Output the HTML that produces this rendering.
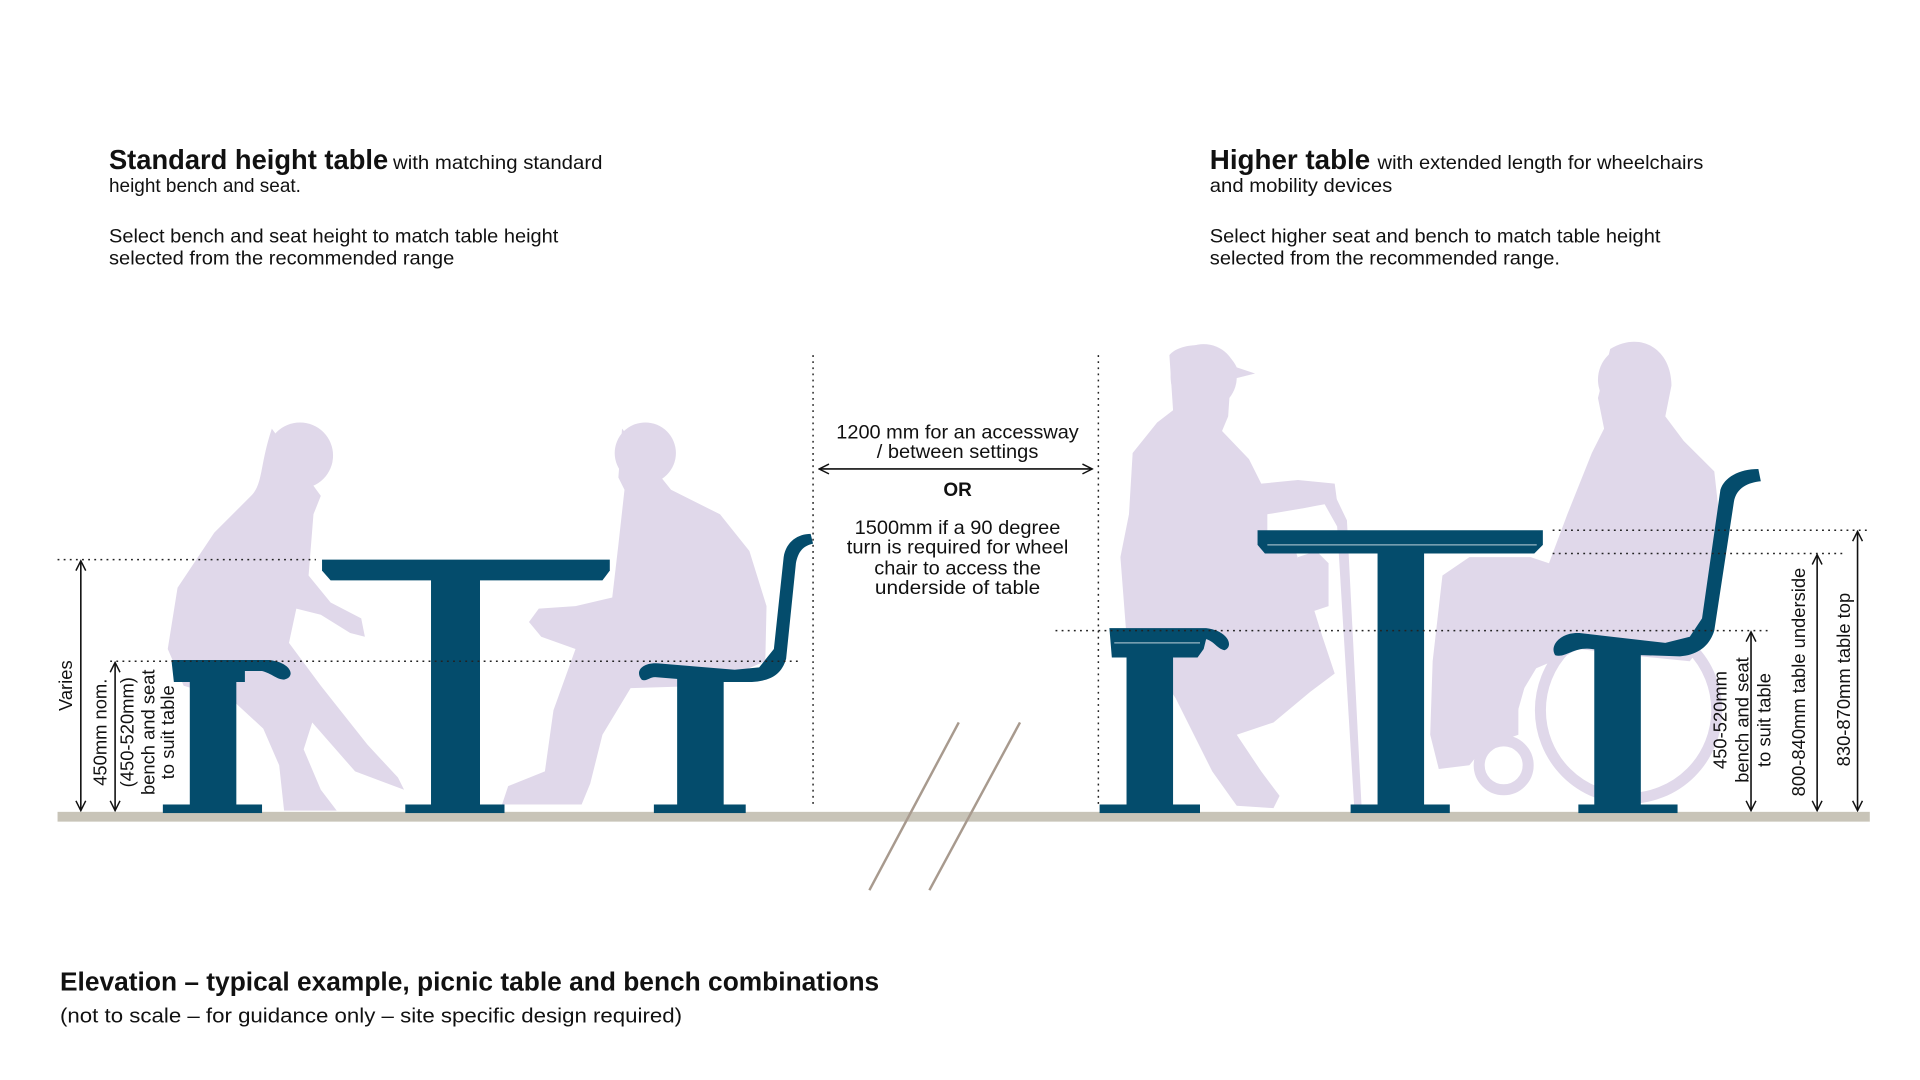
<!DOCTYPE html>
<html><head><meta charset="utf-8"><style>
html,body{margin:0;padding:0;background:#fff;width:1920px;height:1080px;overflow:hidden}
svg{display:block}
text{font-family:"Liberation Sans",sans-serif;fill:#111}
</style></head><body>
<svg width="1920" height="1080" viewBox="0 0 1568 882" preserveAspectRatio="none" xmlns="http://www.w3.org/2000/svg">
<defs>
<marker id="a" markerWidth="10" markerHeight="10" refX="9" refY="5" orient="auto-start-reverse" markerUnits="userSpaceOnUse"><path d="M1,1 L9,5 L1,9" fill="none" stroke="#111" stroke-width="1.2"/></marker>
</defs>
<!-- headings -->
<text x="89" y="138" font-size="22.5" font-weight="bold" textLength="228" lengthAdjust="spacingAndGlyphs">Standard height table</text>
<text x="321" y="138" font-size="15.5" textLength="171" lengthAdjust="spacingAndGlyphs">with matching standard</text>
<text x="89" y="157" font-size="15.5">height bench and seat.</text>
<text x="89" y="198" font-size="15.5" textLength="367" lengthAdjust="spacingAndGlyphs">Select bench and seat height to match table height</text>
<text x="89" y="216" font-size="15.5" textLength="282" lengthAdjust="spacingAndGlyphs">selected from the recommended range</text>
<text x="988" y="138" font-size="22.5" font-weight="bold" textLength="131" lengthAdjust="spacingAndGlyphs">Higher table</text>
<text x="1125" y="138" font-size="15.5" textLength="266" lengthAdjust="spacingAndGlyphs">with extended length for wheelchairs</text>
<text x="988" y="157" font-size="15.5" textLength="149" lengthAdjust="spacingAndGlyphs">and mobility devices</text>
<text x="988" y="198" font-size="15.5" textLength="368" lengthAdjust="spacingAndGlyphs">Select higher seat and bench to match table height</text>
<text x="988" y="216" font-size="15.5" textLength="286" lengthAdjust="spacingAndGlyphs">selected from the recommended range.</text>

<!-- silhouettes -->
<g fill="#e0d8ea">
<circle cx="245" cy="372" r="27"/>
<path d="M222,350 C212,380 215,395 205,405 L175,435 L145,480 L137,530 L150,560 L190,572 L215,595 L228,625 L232,662 L275,662 L262,645 L248,612 L255,590 L290,630 L330,645 L325,635 L300,608 L262,560 L236,525 L242,497 L262,502 L286,517 L298,520 L295,505 L270,492 L252,470 L256,420 L262,405 Z"/>
<circle cx="527" cy="370" r="25"/>
<path d="M508,350 L505,390 L510,400 L505,445 L500,488 L470,495 L440,497 L432,508 L442,520 L470,530 L452,580 L445,630 L415,642 L410,657 L475,657 L482,640 L492,600 L515,562 L578,560 L625,540 L626,495 L612,450 L588,420 L548,400 Z"/>
<!-- right woman -->
<circle cx="983" cy="308" r="27"/>
<path d="M955,290 C965,278 1000,278 1010,300 L1025,305 L1005,310 L1003,340 L998,352 L1020,375 L1030,395 L1060,392 L1090,395 L1092,410 L1075,413 L1065,415 L1035,420 L1035,435 L1055,440 L1080,520 L1090,550 L1070,565 L1040,590 L1010,600 L1030,630 L1045,650 L1040,660 L1010,658 L990,630 L960,570 L940,540 L920,520 L915,455 L922,420 L925,370 L945,345 L958,335 Z"/>
<path d="M1060,455 L1075,450 L1085,460 L1085,495 L1070,500 L1058,490 Z"/>
<path d="M1078,405 L1088,400 L1100,425 L1112,660 L1106,660 L1092,430 Z"/>
<!-- right man -->
<circle cx="1333" cy="310" r="28"/>
<path d="M1315,285 C1340,270 1365,285 1365,315 L1360,340 L1375,360 L1400,385 L1405,430 L1395,520 L1380,540 L1330,535 L1290,530 L1255,545 L1240,570 L1240,600 L1212,610 L1200,625 L1175,628 L1168,600 L1170,540 L1178,470 L1200,455 L1250,455 L1265,460 L1280,420 L1300,370 L1310,350 L1305,325 Z"/>
</g>
<g fill="none" stroke="#e0d8ea" stroke-width="9">
<circle cx="1330" cy="580" r="72"/>
<circle cx="1228" cy="625" r="20"/>
<path d="M1228,605 L1245,545 L1280,530"/>
</g>

<!-- ground -->
<rect x="47" y="663" width="1480" height="8" fill="#c8c4b8"/>
<!-- break lines -->
<g stroke="#a89a8e" stroke-width="2">
<line x1="783" y1="590" x2="710" y2="727"/>
<line x1="833" y1="590" x2="759" y2="727"/>
</g>

<g fill="#044c6c">
<path d="M263,457 L498,457 L498,466 L492,474 L270,474 L263,466 Z"/>
<rect x="352" y="470" width="40" height="190"/>
<rect x="331" y="657" width="81" height="7"/>
<path d="M140,539 L220,539 C238,541 242,553 232,555 C226,555 222,550 214,548 L200,548 L200,557 L142,557 Z"/>
<rect x="155" y="555" width="38" height="105"/>
<rect x="133" y="657" width="81" height="7"/>
<path d="M524,555 C518,548 525,540 540,542 L600,547 L620,545 L632,530 L640,455 C642,442 652,436 662,436 L664,444 C656,446 652,450 650,460 L642,538 C638,552 628,556 614,557 L590,557 L560,555 L535,553 C530,553 528,557 524,555 Z"/>
<rect x="553" y="552" width="38" height="108"/>
<rect x="534" y="657" width="75" height="7"/>
<path d="M1027,433 L1260,433 L1260,445 L1253,452 L1033,452 L1027,445 Z"/>
<rect x="1125" y="450" width="38" height="210"/>
<rect x="1103" y="657" width="81" height="7"/>
<path d="M906,513 L985,513 C1003,515 1008,528 1000,531 C994,530 992,524 985,522 L983,530 L978,537 L908,537 Z"/>
<rect x="920" y="535" width="38" height="125"/>
<rect x="898" y="657" width="82" height="7"/>
<path d="M1270,535 C1265,527 1275,516 1290,517 L1360,525 L1380,520 L1390,505 L1405,400 C1408,390 1420,383 1436,383 L1438,393 C1428,394 1418,398 1416,410 L1400,515 C1396,528 1386,535 1372,536 L1340,535 L1300,530 C1285,528 1278,538 1270,535 Z"/>
<rect x="1302" y="530" width="38" height="130"/>
<rect x="1289" y="657" width="81" height="7"/>
</g>
<g stroke="#fff" stroke-width="1" opacity="0.6">
<line x1="1035" y1="445" x2="1255" y2="445"/>
<line x1="910" y1="525" x2="980" y2="525"/>
</g>

<g stroke="#222" stroke-width="1.2" stroke-dasharray="1.5,3.5" fill="none">
<line x1="47" y1="457" x2="258" y2="457"/>
<line x1="90" y1="540" x2="652" y2="540"/>
<line x1="664" y1="290" x2="664" y2="660"/>
<line x1="897" y1="290" x2="897" y2="660"/>
<line x1="1268" y1="433" x2="1527" y2="433"/>
<line x1="1268" y1="452" x2="1505" y2="452"/>
<line x1="862" y1="515" x2="1445" y2="515"/>
</g>
<g stroke="#111" stroke-width="1.3" fill="none" marker-start="url(#a)" marker-end="url(#a)">
<line x1="669" y1="383" x2="892" y2="383"/>
<line x1="66" y1="458" x2="66" y2="662"/>
<line x1="94" y1="541" x2="94" y2="662"/>
<line x1="1430" y1="516" x2="1430" y2="662"/>
<line x1="1484" y1="453" x2="1484" y2="662"/>
<line x1="1517" y1="434" x2="1517" y2="662"/>
</g>

<g font-size="15.5" text-anchor="middle">
<text x="782" y="358" textLength="198" lengthAdjust="spacingAndGlyphs">1200 mm for an accessway</text>
<text x="782" y="374" textLength="132" lengthAdjust="spacingAndGlyphs">/ between settings</text>
<text x="782" y="405" font-weight="bold">OR</text>
<text x="782" y="436" textLength="168" lengthAdjust="spacingAndGlyphs">1500mm if a 90 degree</text>
<text x="782" y="452" textLength="181" lengthAdjust="spacingAndGlyphs">turn is required for wheel</text>
<text x="782" y="469" textLength="136" lengthAdjust="spacingAndGlyphs">chair to access the</text>
<text x="782" y="485" textLength="135" lengthAdjust="spacingAndGlyphs">underside of  table</text>
</g>
<g font-size="15" text-anchor="middle">
<text transform="translate(59,560) rotate(-90)">Varies</text>
<text transform="translate(87,598) rotate(-90)">450mm nom.</text>
<text transform="translate(109,598) rotate(-90)">(450-520mm)</text>
<text transform="translate(126,598) rotate(-90)">bench and seat</text>
<text transform="translate(142,598) rotate(-90)">to suit table</text>
<text transform="translate(1410,588) rotate(-90)">450-520mm</text>
<text transform="translate(1428,588) rotate(-90)">bench and seat</text>
<text transform="translate(1446,588) rotate(-90)">to suit table</text>
<text transform="translate(1474,557) rotate(-90)">800-840mm table underside</text>
<text transform="translate(1511,555) rotate(-90)">830-870mm table top</text>
</g>

<text x="49" y="809" font-size="21.5" font-weight="bold" textLength="669" lengthAdjust="spacingAndGlyphs">Elevation – typical example, picnic table and bench combinations</text>
<text x="49" y="835" font-size="16.5" fill="#222" textLength="508" lengthAdjust="spacingAndGlyphs">(not to scale – for guidance only – site specific design required)</text>
</svg>
</body></html>
